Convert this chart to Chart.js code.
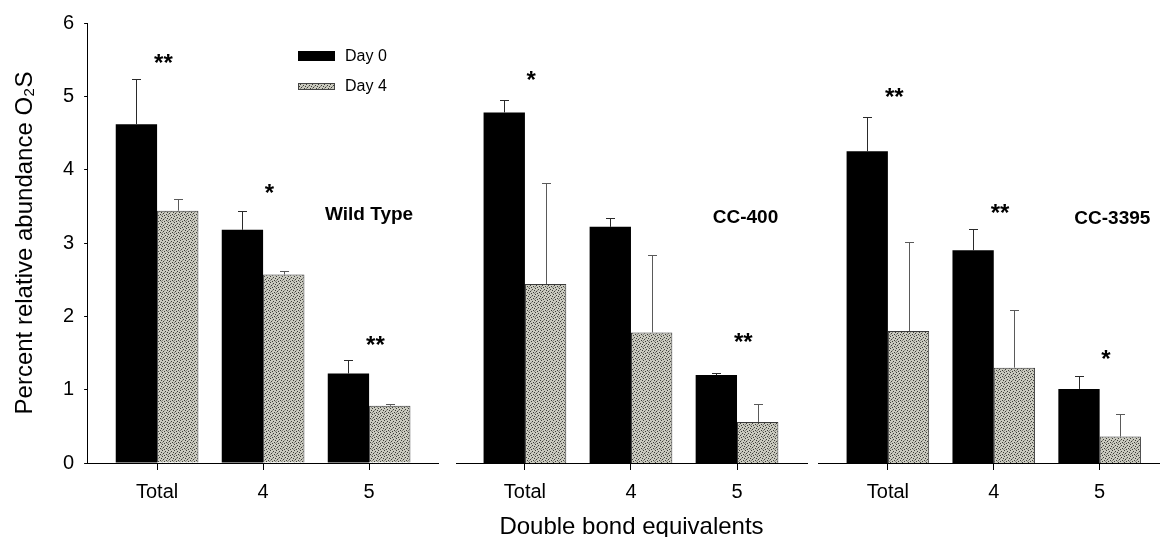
<!DOCTYPE html>
<html>
<head>
<meta charset="utf-8">
<script src="https://cdn.jsdelivr.net/npm/chart.js@4.4.1/dist/chart.umd.min.js"></script>
<style>
    html, body { margin: 0; padding: 0; background: #fff; }
    #wrap { position: relative; width: 1160px; height: 537px; overflow: hidden; }
    canvas { position: absolute; top: 0; }
</style>
</head>
<body>
<div id="wrap">
    <canvas id="chart-wt" width="445" height="539" style="left:0px"></canvas>
    <canvas id="chart-cc400" width="367" height="539" style="left:445px"></canvas>
    <canvas id="chart-cc3395" width="348" height="539" style="left:812px"></canvas>
</div>
<script>
// data
const categories = ['Total', '4', '5'];
const seriesNames = ['Day 0', 'Day 4'];
const yTicks = [0, 1, 2, 3, 4, 5, 6];

const wtDay0 = [4.62, 3.18, 1.22];
const wtDay0Err = [0.62, 0.26, 0.18];
const wtDay4 = [3.44, 2.57, 0.78];
const wtDay4Err = [0.16, 0.05, 0.03];
const wtStars = ['**', '*', '**'];
const wtStarY = [5.50, 3.72, 1.65];

const cc400Day0 = [4.78, 3.22, 1.20];
const cc400Day0Err = [0.17, 0.12, 0.03];
const cc400Day4 = [2.44, 1.78, 0.56];
const cc400Day4Err = [1.38, 1.05, 0.24];
const cc400Stars = ['*', '', '**'];
const cc400StarY = [5.26, null, 1.69];

const cc3395Day0 = [4.25, 2.90, 1.01];
const cc3395Day0Err = [0.47, 0.29, 0.17];
const cc3395Day4 = [1.80, 1.30, 0.36];
const cc3395Day4Err = [1.22, 0.79, 0.31];
const cc3395Stars = ['**', '**', '*'];
const cc3395StarY = [5.03, 3.45, 1.46];

const FONT = "'Liberation Sans', Arial, sans-serif";

// stippled fill like the SigmaPlot pattern
function makeStipple(ctx) {
    let tile = document.createElement('canvas');
    tile.width = 6;
    tile.height = 6;
    let g = tile.getContext('2d');
    g.fillStyle = '#cacabf';
    g.fillRect(0, 0, 6, 6);
    g.fillStyle = '#3c3c38';
    [[0, 0], [3, 1], [1, 3], [4, 4], [5, 2], [2, 5]].forEach(p => g.fillRect(p[0], p[1], 1, 1));
    g.fillStyle = '#8a8a82';
    [[2, 2], [5, 5], [0, 4]].forEach(p => g.fillRect(p[0], p[1], 1, 1));
    return ctx.createPattern(tile, 'repeat');
}

function toPoints(values) {
    return values.map((v, i) => ({x: i, y: v}));
}

// upper error bars, drawn through the chart's own scales
const errorBarPlugin = {
    id: 'errorBars',
    afterDatasetsDraw(chart) {
        const ctx = chart.ctx;
        const yScale = chart.scales.y;
        chart.data.datasets.forEach((ds, di) => {
            const meta = chart.getDatasetMeta(di);
            meta.data.forEach((bar, i) => {
                const top = yScale.getPixelForValue(ds.data[i].y + ds.errors[i]);
                ctx.save();
                ctx.strokeStyle = ds.errorColor;
                ctx.lineWidth = 1;
                ctx.beginPath();
                ctx.moveTo(Math.round(bar.x) + 0.5, bar.y);
                ctx.lineTo(Math.round(bar.x) + 0.5, Math.round(top) + 0.5);
                ctx.moveTo(Math.round(bar.x) - 4, Math.round(top) + 0.5);
                ctx.lineTo(Math.round(bar.x) + 5, Math.round(top) + 0.5);
                ctx.stroke();
                ctx.restore();
            });
        });
    }
};

// asterisks and panel name
const annotationPlugin = {
    id: 'annotations',
    afterDraw(chart) {
        const opts = chart.options.plugins.annotations;
        const ctx = chart.ctx;
        const xs = chart.scales.x;
        const ys = chart.scales.y;
        ctx.save();
        ctx.fillStyle = '#000';
        ctx.textAlign = 'center';
        ctx.font = 'bold 24px ' + FONT;
        ctx.textBaseline = 'alphabetic';
        opts.stars.forEach((s, i) => {
            if (!s) return;
            ctx.fillText(s, xs.getPixelForValue(i + 0.06), ys.getPixelForValue(opts.starY[i]) + 11);
        });
        ctx.font = 'bold 19px ' + FONT;
        ctx.textBaseline = 'middle';
        ctx.fillText(opts.name, xs.getPixelForValue(opts.nameAt[0]), ys.getPixelForValue(opts.nameAt[1]));
        ctx.restore();
    }
};

// legend inside first panel
const legendPlugin = {
    id: 'insideLegend',
    afterDraw(chart) {
        if (!chart.options.plugins.insideLegend.show) return;
        const ctx = chart.ctx;
        const ds = chart.data.datasets;
        ctx.save();
        ctx.fillStyle = ds[0].backgroundColor;
        ctx.fillRect(298, 51, 37, 10);
        ctx.fillStyle = ds[1].backgroundColor;
        ctx.fillRect(298, 83, 37, 7);
        ctx.strokeStyle = '#444';
        ctx.lineWidth = 1;
        ctx.strokeRect(298.5, 83.5, 36, 6);
        ctx.fillStyle = '#000';
        ctx.font = '16px ' + FONT;
        ctx.textBaseline = 'middle';
        ctx.fillText(ds[0].label, 345, 57);
        ctx.fillText(ds[1].label, 345, 87);
        ctx.restore();
    }
};

function buildChart(id, panel) {
    const canvas = document.getElementById(id);
    const ctx = canvas.getContext('2d');
    const stipple = makeStipple(ctx);

    return new Chart(ctx, {
        type: 'bar',
        data: {
            datasets: [{
                label: seriesNames[0],
                data: toPoints(panel.day0),
                errors: panel.day0Err,
                errorColor: '#2a2a2a',
                backgroundColor: '#000',
                borderColor: '#000',
                borderWidth: 0
            }, {
                label: seriesNames[1],
                data: toPoints(panel.day4),
                errors: panel.day4Err,
                errorColor: '#5a5a5a',
                backgroundColor: stipple,
                borderColor: '#3a3a3a',
                borderWidth: 1
            }]
        },
        options: {
            responsive: false,
            animation: false,
            categoryPercentage: 0.78,
            barPercentage: 1.0,
            layout: {padding: panel.padding},
            plugins: {
                legend: {display: false},
                tooltip: {enabled: false},
                insideLegend: {show: panel.legend},
                annotations: {name: panel.name, nameAt: panel.nameAt, stars: panel.stars, starY: panel.starY}
            },
            scales: {
                x: {
                    type: 'linear',
                    min: panel.xMin,
                    max: panel.xMax,
                    offset: false,
                    afterBuildTicks: (scale) => {
                        scale.ticks = categories.map((c, i) => ({value: i}));
                    },
                    ticks: {
                        callback: (v) => categories[v],
                        color: '#000',
                        font: {family: FONT, size: 20},
                        padding: 10,
                        maxRotation: 0,
                        autoSkip: false
                    },
                    grid: {display: true, drawOnChartArea: false, tickLength: 7, color: '#000', offset: false},
                    border: {display: true, color: '#000', width: 1},
                    title: {
                        display: panel.xTitle,
                        text: 'Double bond equivalents',
                        color: '#000',
                        font: {family: FONT, size: 24, lineHeight: 1},
                        padding: {top: 1, bottom: 0}
                    }
                },
                y: {
                    display: panel.yAxis,
                    min: 0,
                    max: 6,
                    afterBuildTicks: (scale) => {
                        scale.ticks = yTicks.map(v => ({value: v}));
                    },
                    ticks: {
                        color: '#000',
                        font: {family: FONT, size: 20},
                        padding: 10
                    },
                    grid: {display: true, drawOnChartArea: false, tickLength: 3, color: '#000'},
                    border: {display: true, color: '#000', width: 1},
                    title: {
                        display: true,
                        text: 'Percent relative abundance O\u2082S',
                        color: '#000',
                        font: {family: FONT, size: 24, lineHeight: 1},
                        padding: {top: 13, bottom: 16}
                    }
                }
            }
        },
        plugins: [errorBarPlugin, annotationPlugin, legendPlugin]
    });
}

buildChart('chart-wt', {
    day0: wtDay0, day0Err: wtDay0Err, day4: wtDay4, day4Err: wtDay4Err,
    stars: wtStars, starY: wtStarY,
    name: 'Wild Type', nameAt: [2.0, 3.38],
    xMin: -0.66, xMax: 2.65,
    yAxis: true, xTitle: false, legend: true,
    padding: {top: 23, right: 7, bottom: 25, left: 0}
});

buildChart('chart-cc400', {
    day0: cc400Day0, day0Err: cc400Day0Err, day4: cc400Day4, day4Err: cc400Day4Err,
    stars: cc400Stars, starY: cc400StarY,
    name: 'CC-400', nameAt: [2.08, 3.34],
    xMin: -0.65, xMax: 2.66,
    yAxis: false, xTitle: true, legend: false,
    padding: {top: 23, right: 5, bottom: 0, left: 11}
});

buildChart('chart-cc3395', {
    day0: cc3395Day0, day0Err: cc3395Day0Err, day4: cc3395Day4, day4Err: cc3395Day4Err,
    stars: cc3395Stars, starY: cc3395StarY,
    name: 'CC-3395', nameAt: [2.12, 3.33],
    xMin: -0.66, xMax: 2.57,
    yAxis: false, xTitle: false, legend: false,
    padding: {top: 23, right: 0, bottom: 25, left: 6}
});
</script>
</body>
</html>
